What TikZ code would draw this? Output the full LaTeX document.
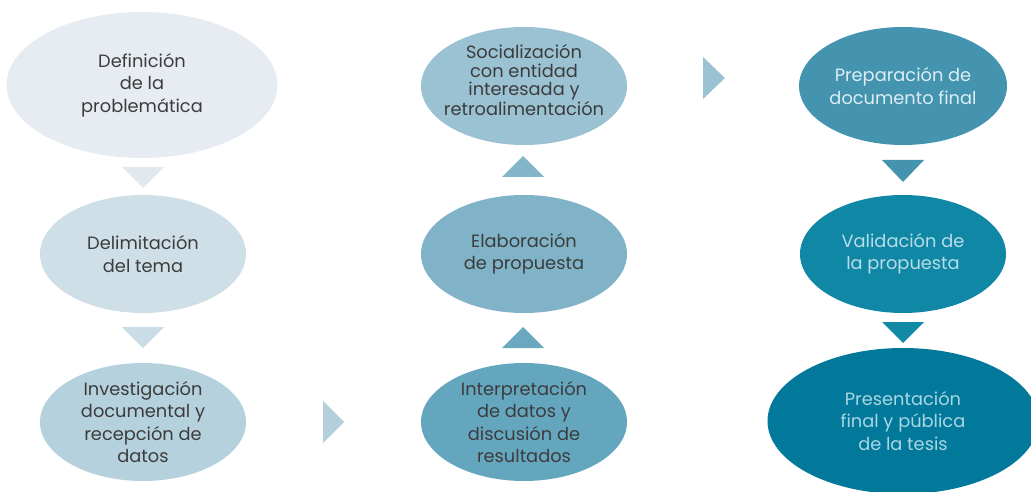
\documentclass[tikz,border=0pt]{standalone}
\usepackage{fontspec}
\setmainfont{Poppins}
\usetikzlibrary{shapes.geometric}
\definecolor{cA}{HTML}{E6ECF2}\definecolor{tA}{HTML}{E1E9EF}
\definecolor{cB}{HTML}{CFDFE7}\definecolor{tB}{HTML}{CADCE5}
\definecolor{cC}{HTML}{B5D1DD}\definecolor{tC}{HTML}{B3CFDC}
\definecolor{cD}{HTML}{65A6BF}\definecolor{tD}{HTML}{6AA8C0}
\definecolor{cE}{HTML}{80B3C7}\definecolor{tE}{HTML}{82B5C8}
\definecolor{cF}{HTML}{9BC2D3}\definecolor{tF}{HTML}{9BC2D3}
\definecolor{cG}{HTML}{4494B0}\definecolor{tG}{HTML}{4494B0}
\definecolor{cH}{HTML}{0F87A5}\definecolor{tH}{HTML}{118AA6}
\definecolor{cI}{HTML}{02799A}
\definecolor{darktxt}{HTML}{3C3C3C}
\definecolor{lightG}{HTML}{DCEEF4}
\definecolor{lightH}{HTML}{B8DDE8}
\definecolor{lightI}{HTML}{A9D6E3}
\tikzset{
  ell/.style={ellipse, inner sep=0pt, minimum width=206pt, minimum height=118pt, align=center,
    font=\fontsize{17.8}{22.5}\selectfont, text=darktxt},
  bigell/.style={ell, minimum width=271pt, minimum height=146pt},
  txt/.style={inner sep=0pt, align=center, font=\fontsize{17.8}{18.6}\selectfont, text=darktxt},
}
\begin{document}
\begin{tikzpicture}[x=1pt,y=-1pt]
\useasboundingbox (0,0) rectangle (1031,492);
\clip (0,0) rectangle (1031,492);
% ellipses
\node[bigell, fill=cA] (e1) at (142,85) {Definición\\de la\\problemática};
\node[ell, fill=cB] (e2) at (143,254) {Delimitación\\del tema};
\node[ell, fill=cC] (e3) at (143,422) {Investigación\\documental y\\recepción de\\datos};
\node[ell, fill=cD] (e4) at (524,422) {Interpretación\\de datos y\\discusión de\\resultados};
\node[ell, fill=cE] (e5) at (524,254) {Elaboración\\de propuesta};
\node[ell, fill=cF] (e6) at (524,86) {};
\node[txt] (t6) at (524,80) {Socialización\\con entidad\\interesada y\\retroalimentación};
\node[ell, fill=cG, text=lightG] (e7) at (903,86) {Preparación de\\documento final};
\node[ell, fill=cH, text=lightH] (e8) at (903,254) {Validación de\\la propuesta};
\node[bigell, fill=cI, text=lightI] (e9) at (903,421) {Presentación\\final y pública\\de la tesis};
% triangles
\coordinate (d1) at (143,167);
\fill[tA] (d1) ++(-21,0) -- ++(42,0) -- ++(-21,21) -- cycle;
\coordinate (d2) at (143,327);
\fill[tB] (d2) ++(-21,0) -- ++(42,0) -- ++(-21,21) -- cycle;
\coordinate (r1) at (323,422);
\fill[tC] (r1) ++(0,-21) -- ++(21,21) -- ++(-21,21) -- cycle;
\coordinate (u1) at (523,348);
\fill[tD] (u1) ++(-21,0) -- ++(42,0) -- ++(-21,-21) -- cycle;
\coordinate (u2) at (523,177);
\fill[tE] (u2) ++(-21,0) -- ++(42,0) -- ++(-21,-21) -- cycle;
\coordinate (r2) at (703,78);
\fill[tF] (r2) ++(0,-21) -- ++(22,21) -- ++(-22,21) -- cycle;
\coordinate (d3) at (903,160);
\fill[tG] (d3) ++(-21,0) -- ++(42,0) -- ++(-21,22) -- cycle;
\coordinate (d4) at (903,322);
\fill[tH] (d4) ++(-21,0) -- ++(42,0) -- ++(-21,21) -- cycle;
\end{tikzpicture}
\end{document}
